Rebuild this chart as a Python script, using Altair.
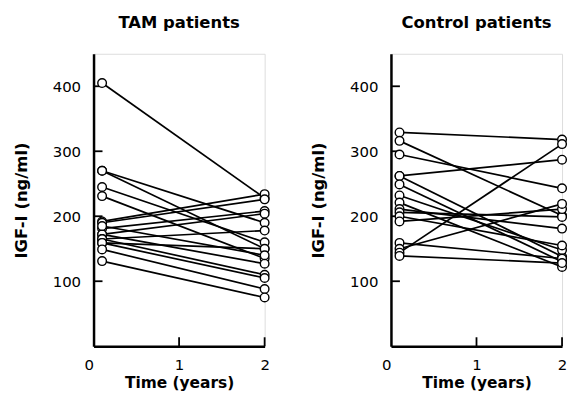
import altair as alt
import pandas as pd

# TAM patients: IGF-I at start and at 2 years (ng/ml)
tam_start = [405, 270, 270, 245, 231, 192, 190, 181, 172, 172, 165, 165, 159, 159, 149, 131, 185]
tam_end   = [228, 190, 150, 160, 135, 234, 226, 208, 204, 127, 178, 110, 150, 105, 88, 75, 140]

# Control patients
ctl_start = [329, 316, 295, 262, 262, 249, 232, 221, 211, 206, 200, 192, 159, 150, 144, 139]
ctl_end   = [318, 201, 243, 287, 138, 130, 148, 122, 181, 199, 155, 211, 135, 219, 311, 128]

t_start = 0.1
t_end = 2.0

y_ticks = [100, 200, 300, 400]
x_ticks = [1, 2]

W, H = 172, 294
FONT = "DejaVu Sans"


def long_df(starts, ends):
    rows = []
    for i, (s, e) in enumerate(zip(starts, ends)):
        rows.append({"pid": i, "t": t_start, "v": s})
        rows.append({"pid": i, "t": t_end, "v": e})
    return pd.DataFrame(rows)


def panel(starts, ends, title):
    df = long_df(starts, ends)
    xs = alt.Scale(domain=[0, 2], nice=False)
    ys = alt.Scale(domain=[0, 450], nice=False)
    xax = alt.Axis(tickCount=2, ticks=False, grid=False, labelFontSize=15,
                   labelFont=FONT, labelPadding=11, domainWidth=2.5, domainColor="black",
                   labelColor="black", labelOverlap=False, labelFlush=False,
                   labelAlign={"condition": {"test": "datum.value == 0", "value": "right"},
                               "value": "center"},
                   title="Time (years)", titleFont=FONT,
                   titleFontSize=15.5, titleFontWeight="bold", titlePadding=4)
    yax = alt.Axis(values=y_ticks, ticks=False, grid=False, labelFontSize=15,
                   labelFont=FONT, labelPadding=13, domainWidth=2.5, domainColor="black",
                   labelColor="black", title="IGF-I (ng/ml)", titleFont=FONT,
                   titleFontSize=16.5, titleFontWeight="bold", titlePadding=23)
    base = alt.Chart(df)
    lines = base.mark_line(color="black", strokeWidth=1.7).encode(
        x=alt.X("t:Q", scale=xs, axis=xax),
        y=alt.Y("v:Q", scale=ys, axis=yax),
        detail="pid:N",
    )
    pts = base.mark_point(shape="circle", size=75, filled=True, fill="white",
                          stroke="black", strokeWidth=1.4, opacity=1).encode(
        x=alt.X("t:Q", scale=xs),
        y=alt.Y("v:Q", scale=ys),
    )
    yt = alt.Chart(pd.DataFrame({"v": y_ticks})).mark_rule(color="black", strokeWidth=1.8).encode(
        y=alt.Y("v:Q", scale=ys), x=alt.value(0), x2=alt.value(9))
    xt = alt.Chart(pd.DataFrame({"t": x_ticks})).mark_rule(color="black", strokeWidth=1.8).encode(
        x=alt.X("t:Q", scale=xs), y=alt.value(H), y2=alt.value(H - 9))
    return alt.layer(lines, yt, xt, pts).properties(
        width=W, height=H,
        title=alt.TitleParams(title, font=FONT, fontSize=16.5, fontWeight="bold",
                              offset=22, anchor="middle", color="black"),
    )


chart = alt.hconcat(
    panel(tam_start, tam_end, "TAM patients"),
    panel(ctl_start, ctl_end, "Control patients"),
    spacing=127, bounds="flush",
).properties(
    padding={"left": 4, "right": 0, "top": 6, "bottom": 0}
).configure_view(strokeWidth=0).configure(background="white")

chart.save("out.html", embed_options={"renderer": "svg", "actions": False})
